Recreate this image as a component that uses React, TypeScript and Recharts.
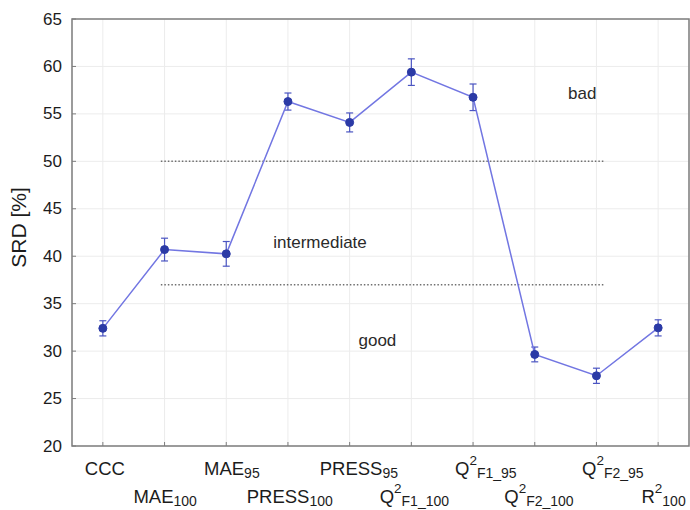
import React from 'react';
import {
  LineChart,
  Line,
  XAxis,
  YAxis,
  CartesianGrid,
  ErrorBar,
  ReferenceLine,
  ReferenceArea,
  ReferenceDot,
  Label,
} from 'recharts';

// ---- data ----
const labelMain = ['CCC', 'MAE', 'MAE', 'PRESS', 'PRESS', 'Q', 'Q', 'Q', 'Q', 'R'];
const labelSup = ['', '', '', '', '', '2', '2', '2', '2', '2'];
const labelSub = ['', '100', '95', '100', '95', 'F1_100', 'F1_95', 'F2_100', 'F2_95', '100'];
const srdValues = [32.4, 40.7, 40.25, 56.3, 54.1, 59.4, 56.75, 29.65, 27.4, 32.45];
const srdErrors = [0.8, 1.2, 1.3, 0.9, 1.0, 1.4, 1.4, 0.78, 0.8, 0.85];
const yTicks = [20, 25, 30, 35, 40, 45, 50, 55, 60, 65];
const xTicks = [0, 1, 2, 3, 4, 5, 6, 7, 8, 9];
const thresholdValues = [50, 37];
const thresholdFrom = 0.94;
const thresholdTo = 8.12;
const zoneNames = ['bad', 'intermediate', 'good'];
const zoneX = [7.77, 3.52, 4.45];
const zoneY = [57.2, 41.45, 31.17];

const data = srdValues.map((v, i) => ({ i, srd: v, err: srdErrors[i] }));

const FONT = '"Liberation Sans", Arial, sans-serif';
const FRAME = '#7d7d7d';
const TEXT = '#1c1c1c';

const XTick = (props: any) => {
  const { x, y, payload } = props;
  const i = payload.value as number;
  const upper = i % 2 === 0;
  const base = upper ? 29 : 57;
  const shift = upper ? 2 + i * 1.8 : i * 0.6;
  const sup = labelSup[i];
  const sub = labelSub[i];
  return (
    <g>
      <line x1={x} x2={x} y1={y} y2={y - 4} stroke={FRAME} strokeWidth={1} />
      <text
        x={x + shift}
        y={y + base}
        textAnchor="middle"
        fontSize={18.5}
        fontFamily={FONT}
        fill={TEXT}
      >
        {labelMain[i]}
        {sup ? (
          <tspan dy={-10} fontSize={13.5}>
            {sup}
          </tspan>
        ) : null}
        {sub ? (
          <tspan dy={sup ? 13 : 3} fontSize={14}>
            {sub}
          </tspan>
        ) : null}
      </text>
    </g>
  );
};

const TopTick = (props: any) => {
  const { x, y } = props;
  return <line x1={x} x2={x} y1={y} y2={y + 4} stroke={FRAME} strokeWidth={1} />;
};

const YTick = (props: any) => {
  const { x, y, payload } = props;
  return (
    <g>
      <line x1={x} x2={x + 4} y1={y} y2={y} stroke={FRAME} strokeWidth={1} />
      <text
        x={x - 10}
        y={y}
        textAnchor="end"
        dominantBaseline="central"
        fontSize={17}
        fontFamily={FONT}
        fill={TEXT}
      >
        {payload.value}
      </text>
    </g>
  );
};

const RightTick = (props: any) => {
  const { x, y } = props;
  return <line x1={x} x2={x - 4} y1={y} y2={y} stroke={FRAME} strokeWidth={1} />;
};

const YLabel = (props: any) => {
  const vb = props.viewBox || { x: 0, y: 19, width: 72, height: 427 };
  const cx = vb.x + 18;
  const cy = vb.y + vb.height / 2 - 5;
  return (
    <text
      x={cx}
      y={cy}
      transform={`rotate(-90, ${cx}, ${cy})`}
      textAnchor="middle"
      dominantBaseline="central"
      fontSize={21}
      fontFamily={FONT}
      fill={TEXT}
    >
      SRD [%]
    </text>
  );
};

export default function App() {
  return (
    <div style={{ position: 'absolute', left: 0, top: 0, width: 690, height: 510, background: '#fff' }}>
      <LineChart
        width={690}
        height={510}
        data={data}
        margin={{ top: 19, right: 1, bottom: 0, left: 0 }}
      >
        <CartesianGrid stroke="#ececec" strokeWidth={1} />
        <XAxis
          dataKey="i"
          type="number"
          domain={[-0.5, 9.5]}
          ticks={xTicks}
          interval={0}
          height={64}
          tickSize={0}
          tickMargin={0}
          axisLine={false}
          tickLine={false}
          tick={<XTick />}
        />
        <XAxis
          xAxisId="top"
          orientation="top"
          dataKey="i"
          type="number"
          domain={[-0.5, 9.5]}
          ticks={xTicks}
          interval={0}
          height={0}
          tickSize={0}
          tickMargin={0}
          axisLine={false}
          tickLine={false}
          tick={<TopTick />}
        />
        <YAxis
          type="number"
          domain={[20, 65]}
          ticks={yTicks}
          interval={0}
          width={72}
          tickSize={0}
          tickMargin={0}
          axisLine={false}
          tickLine={false}
          tick={<YTick />}
        >
          <Label content={<YLabel />} />
        </YAxis>
        <YAxis
          yAxisId="right"
          orientation="right"
          type="number"
          domain={[20, 65]}
          ticks={yTicks}
          interval={0}
          width={0}
          tickSize={0}
          tickMargin={0}
          axisLine={false}
          tickLine={false}
          tick={<RightTick />}
        />
        {thresholdValues.map((t) => (
          <ReferenceLine
            key={t}
            segment={[
              { x: thresholdFrom, y: t },
              { x: thresholdTo, y: t },
            ]}
            stroke="#6f6f6f"
            strokeWidth={1.5}
            strokeDasharray="1.5 2"
          />
        ))}
        {zoneNames.map((n, k) => (
          <ReferenceDot
            key={n}
            x={zoneX[k]}
            y={zoneY[k]}
            r={0}
            fill="none"
            stroke="none"
            label={{
              value: n,
              position: 'center',
              fontSize: 17,
              fontFamily: FONT,
              fill: '#2a2a2a',
            }}
          />
        ))}
        <ReferenceArea
          x1={-0.5}
          x2={9.5}
          y1={20}
          y2={65}
          fill="none"
          fillOpacity={0}
          stroke={FRAME}
          strokeWidth={1.5}
        />
        <Line
          dataKey="srd"
          type="linear"
          stroke="#7276e2"
          strokeWidth={1.5}
          dot={{ r: 4, fill: '#2b3aa6', stroke: '#2b3aa6', strokeWidth: 1 }}
          isAnimationActive={false}
        >
          <ErrorBar
            dataKey="err"
            direction="y"
            width={3.5}
            stroke="#4b55c2"
            strokeWidth={1.2}
            isAnimationActive={false}
          />
        </Line>
      </LineChart>
    </div>
  );
}
